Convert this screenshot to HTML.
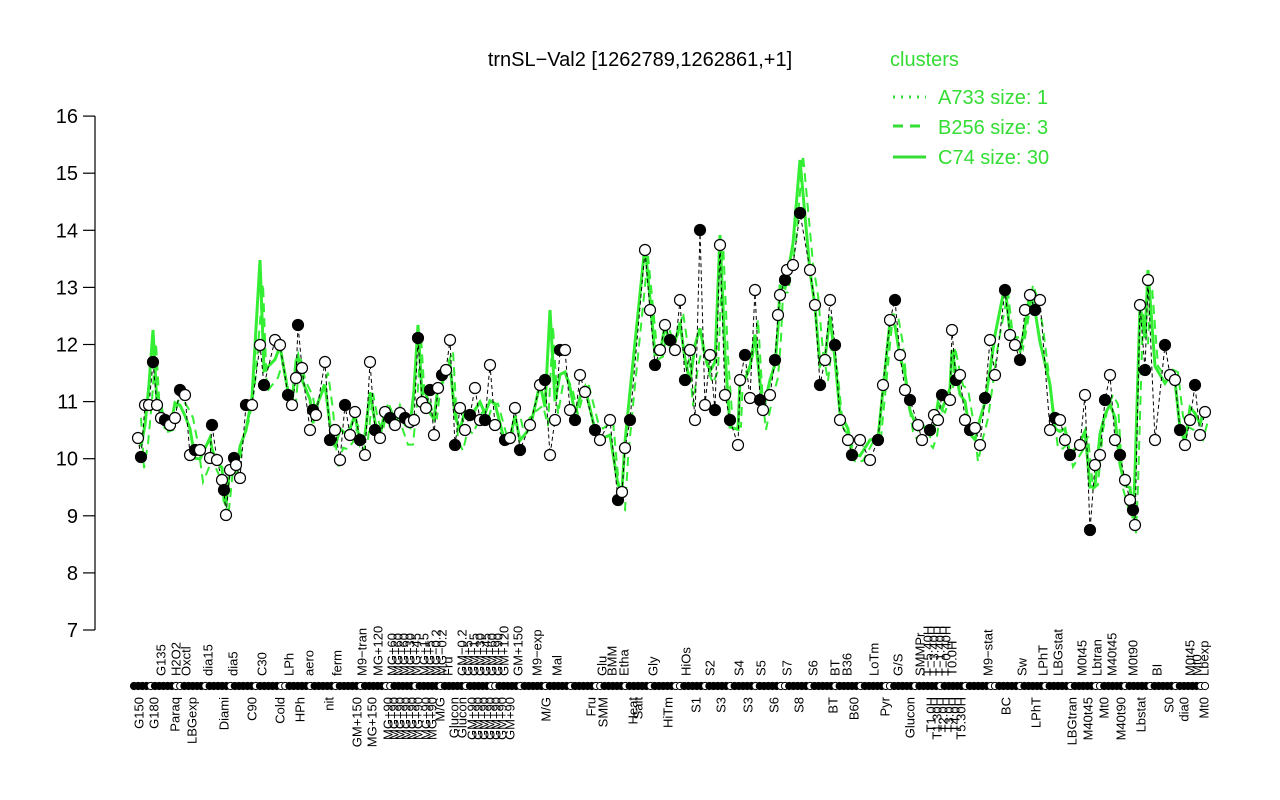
<!DOCTYPE html>
<html><head><meta charset="utf-8"><style>
html,body{margin:0;padding:0;background:#fff;}
svg{display:block;font-family:"Liberation Sans",sans-serif;}
</style></head><body>
<svg id="s" width="1280" height="800" xmlns="http://www.w3.org/2000/svg">
<rect width="1280" height="800" fill="#fff"/>
<text x="640" y="66" font-size="20" text-anchor="middle">trnSL−Val2 [1262789,1262861,+1]</text>
<g font-size="20">
<text x="890" y="66" fill="#33dd33">clusters</text>
<line x1="893" y1="97" x2="926" y2="97" stroke="#33dd33" stroke-width="3" stroke-dasharray="2,6"/>
<text x="938" y="104" fill="#33dd33">A733 size: 1</text>
<line x1="893" y1="126" x2="926" y2="126" stroke="#33dd33" stroke-width="3" stroke-dasharray="10,7"/>
<text x="938" y="134" fill="#33dd33">B256 size: 3</text>
<line x1="893" y1="157" x2="926" y2="157" stroke="#33dd33" stroke-width="3"/>
<text x="938" y="164" fill="#33dd33">C74 size: 30</text>
</g>
<g stroke="#000" stroke-width="1.2">
<line x1="95" y1="116" x2="95" y2="630"/>
</g>
<g id="yt" font-size="20" text-anchor="end"></g>
<g id="plot"></g>
<g id="bot"></g>
</svg>
<script>
var NS="http://www.w3.org/2000/svg";
function el(t,a,p,txt){var e=document.createElementNS(NS,t);for(var k in a)e.setAttribute(k,a[k]);if(txt!==undefined)e.textContent=txt;p.appendChild(e);return e;}
var s=document.getElementById('s'),yt=document.getElementById('yt'),plot=document.getElementById('plot'),bot=document.getElementById('bot');
for(var v=7;v<=16;v++){var y=630-(v-7)*57.1;el('line',{x1:83,y1:y,x2:95,y2:y,stroke:'#000','stroke-width':1.2},s);el('text',{x:78,y:y+7},yt,String(v));}
var d=[[138,438],[141,457],[145,405],[149,405],[153,362],[157,405],[161,418],[165,420],[170,425],[175,418],[180,390],[185,395],[190,455],[195,450],[200,450],[210,458],[212,425],[217,460],[222,480],[224,490],[226,515],[230,470],[234,458],[236,465],[240,478],[246,405],[252,405],[260,345],[264,385],[275,340],[280,345],[288,395],[292,405],[296,378],[298,325],[302,368],[310,430],[313,410],[316,415],[325,362],[330,440],[335,430],[340,460],[345,405],[350,435],[355,412],[360,440],[365,455],[370,362],[375,430],[380,438],[385,412],[390,418],[395,425],[400,413],[405,418],[410,422],[414,420],[418,338],[422,402],[426,408],[430,390],[434,435],[438,388],[442,375],[446,370],[450,340],[455,445],[460,408],[465,430],[470,415],[475,388],[480,420],[485,420],[490,365],[495,425],[505,440],[510,438],[515,408],[520,450],[530,425],[540,385],[545,380],[550,455],[555,420],[560,350],[565,350],[570,410],[575,420],[580,375],[585,392],[595,430],[600,440],[610,420],[618,500],[622,492],[625,448],[630,420],[645,250],[650,310],[655,365],[660,350],[665,325],[670,340],[675,350],[680,300],[685,380],[690,350],[695,420],[700,230],[705,405],[710,355],[715,410],[720,245],[725,395],[730,420],[738,445],[740,380],[745,355],[750,398],[755,290],[760,400],[763,410],[770,395],[775,360],[778,315],[780,295],[785,280],[787,270],[793,265],[800,213],[810,270],[815,305],[820,385],[825,360],[830,300],[835,345],[840,420],[848,440],[852,455],[860,440],[870,460],[878,440],[883,385],[890,320],[895,300],[900,355],[905,390],[910,400],[918,425],[922,440],[930,430],[934,415],[938,420],[942,395],[950,400],[952,330],[956,380],[960,375],[965,420],[970,430],[975,428],[980,445],[985,398],[990,340],[995,375],[1005,290],[1010,335],[1015,345],[1020,360],[1025,310],[1030,295],[1035,310],[1040,300],[1050,430],[1055,418],[1060,420],[1065,440],[1070,455],[1080,445],[1085,395],[1090,530],[1095,465],[1100,455],[1105,400],[1110,375],[1115,440],[1120,455],[1125,480],[1130,500],[1133,510],[1135,525],[1140,305],[1145,370],[1148,280],[1155,440],[1165,345],[1170,375],[1175,380],[1180,430],[1185,445],[1190,420],[1195,385],[1200,435],[1205,412]];
var g=[];
for(var i=0;i<d.length;i++){var a=d[Math.max(0,i-1)][1],b=d[i][1],c=d[Math.min(d.length-1,i+1)][1];g.push([d[i][0],(a+2*b+c)/4+ (i%3==0?-10:7)]);}
var peaks={260:260,800:160,645:245,720:235,1148:270,1005:285,153:330,550:310,418:325,300:320,1140:305};
g.forEach(function(p){if(peaks[p[0]])p[1]=peaks[p[0]];});
el('polyline',{points:g.map(function(p){return p.join(',')}).join(' '),fill:'none',stroke:'#33ee33','stroke-width':3},plot);
var g2=g.map(function(p,i){return [p[0]+3,p[1]+((i*37)%40)-15];});
el('polyline',{points:g2.map(function(p){return p.join(',')}).join(' '),fill:'none',stroke:'#33ee33','stroke-width':2,'stroke-dasharray':'9,6'},plot);
el('polyline',{points:d.map(function(p){return p.join(',')}).join(' '),fill:'none',stroke:'#000','stroke-width':1,'stroke-dasharray':'4,3'},plot);
d.forEach(function(p,i){el('circle',{cx:p[0],cy:p[1],r:5.5,fill:(i%3==1?'#000':'#fff'),stroke:'#000','stroke-width':1.2},plot);});
for(var x=134;x<=1208;x+=4.2){var w=((Math.floor(x)*7)%5==0);el('circle',{cx:x,cy:686,r:3.6,fill:w?'#fff':'#000',stroke:'#000','stroke-width':1},bot);}
var up=[[161,'G135'],[176,'H2O2'],[186,'Oxctl'],[208,'dia15'],[233,'dia5'],[262,'C30'],[289,'LPh'],[309,'aero'],[337,'ferm'],[362,'M9−tran'],[378,'MG+120'],[392,'MG+60'],[398,'MG+60'],[404,'MG+60'],[410,'MG+30'],[416,'MG+45'],[424,'MG+15'],[430,'MG+5'],[436,'MG−0.2'],[442,'MG−0.2'],[448,'Fru'],[462,'GM−0.2'],[468,'GM+5'],[474,'GM+15'],[480,'GM+30'],[486,'GM+45'],[492,'GM+60'],[498,'GM+90'],[504,'GM+120'],[518,'GM+150'],[537,'M9−exp'],[557,'Mal'],[602,'Glu'],[612,'BMM'],[624,'Etha'],[653,'Gly'],[686,'HiOs'],[710,'S2'],[739,'S4'],[761,'S5'],[787,'S7'],[813,'S6'],[835,'BT'],[847,'B36'],[874,'LoTm'],[898,'G/S'],[920,'SMMPr'],[928,'T−5.40H'],[934,'T−3.40H'],[940,'T−1.40H'],[946,'T−0.40H'],[952,'T0.0H'],[988,'M9−stat'],[1022,'Sw'],[1043,'LPhT'],[1058,'LBGstat'],[1082,'M0t45'],[1097,'Lbtran'],[1112,'M40t45'],[1133,'M0t90'],[1157,'BI'],[1190,'M0t45'],[1197,'Mt0'],[1204,'Lbexp']];
var lo=[[139,'G150'],[154,'G180'],[175,'Paraq'],[192,'LBGexp'],[224,'Diami'],[252,'C90'],[280,'Cold'],[300,'HPh'],[329,'nit'],[357,'GM+150'],[372,'MG+150'],[388,'MG+90'],[394,'MG+90'],[400,'MG+90'],[406,'MG+90'],[412,'MG+90'],[418,'MG+90'],[426,'MG+90'],[432,'MG+90'],[440,'M/G'],[454,'Glucon'],[462,'Glucon'],[472,'GM+90'],[478,'GM+90'],[484,'GM+90'],[490,'GM+90'],[496,'GM+90'],[502,'GM+90'],[510,'GM+90'],[546,'M/G'],[591,'Fru'],[603,'SMM'],[633,'Heat'],[638,'Salt'],[668,'HiTm'],[696,'S1'],[721,'S3'],[748,'S3'],[774,'S6'],[799,'S8'],[833,'BT'],[854,'B60'],[885,'Pyr'],[910,'Glucon'],[931,'T1.0H'],[937,'T1.30H'],[943,'T2.0H'],[949,'T3.0H'],[955,'T4.0H'],[961,'T5.30H'],[1006,'BC'],[1036,'LPhT'],[1072,'LBGtran'],[1088,'M40t45'],[1104,'Mt0'],[1121,'M40t90'],[1141,'Lbstat'],[1169,'S0'],[1184,'dia0'],[1204,'Mt0']];
up.forEach(function(l){el('text',{x:0,y:0,'font-size':13,transform:'translate('+(l[0]+4.5)+',676) rotate(-90)'},bot,l[1]);});
lo.forEach(function(l){el('text',{x:0,y:0,'font-size':13,'text-anchor':'end',transform:'translate('+(l[0]+4.5)+',697) rotate(-90)'},bot,l[1]);});
</script>
</body></html>
